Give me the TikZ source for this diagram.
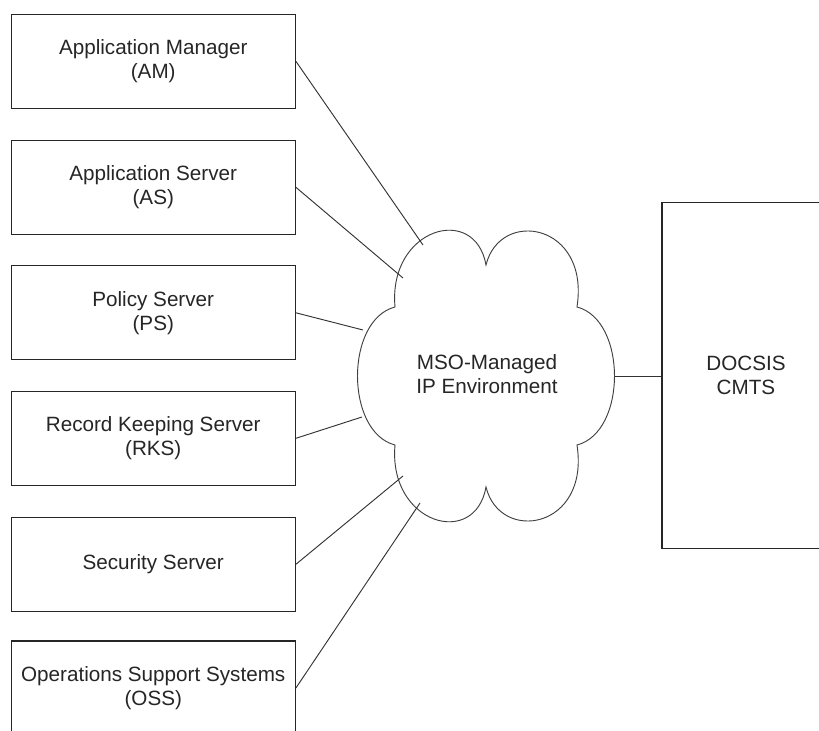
\documentclass[tikz,border=0pt]{standalone}
\usepackage{fontspec}
\setmainfont{Liberation Sans}
\begin{document}
\begin{tikzpicture}[x=0.75pt,y=-0.75pt,
  every node/.style={text=black!85},
  box/.style={draw=black!85,line width=1pt,rectangle,minimum width=213pt,minimum height=70.5pt,align=center,inner sep=0pt,font=\fontsize{15.5}{18}\selectfont},
  link/.style={draw=black!80,line width=0.7pt},
  cloudline/.style={draw=black!75,line width=0.7pt}]
\useasboundingbox (0,0) rectangle (819,731);
\clip (0,0) rectangle (819,731);
\fill[white] (0,0) rectangle (819,731);
% left boxes
\node[box] (am)  at (153.25,61.3)  {Application Manager\\(AM)};
\node[box] (as)  at (153.25,187.3) {Application Server\\(AS)};
\node[box] (ps)  at (153.25,312.8) {Policy Server\\(PS)};
\node[box] (rks) at (153.25,438.3) {Record Keeping Server\\(RKS)};
\node[box] (sec) at (153.25,564.3) {Security Server};
\node[box] (oss) at (153.25,688)   {Operations Support Systems\\(OSS)};
% CMTS
\node[box,minimum width=126pt,minimum height=259.5pt] (cmts) at (746,375.3) {DOCSIS\\CMTS};
% cloud outline
\draw[cloudline] (395,307)
  .. controls (388,228) and (475,203) .. (486,265)
  .. controls (500,208) and (590,223) .. (577,307)
  .. controls (627,320) and (627,432) .. (577,445)
  .. controls (590,529) and (500,544) .. (486,487)
  .. controls (475,549) and (388,524) .. (395,445)
  .. controls (345,432) and (345,320) .. (395,307) -- cycle;
\node[align=center,font=\fontsize{15.5}{18}\selectfont] (cloud) at (487,374) {MSO-Managed\\IP Environment};
% attach points on the cloud
\coordinate (c1) at (423,245);
\coordinate (c2) at (403,278);
\coordinate (c3) at (363,330);
\coordinate (c4) at (362,417);
\coordinate (c5) at (403,476);
\coordinate (c6) at (420,503);
\coordinate (c7) at (615,376);
\draw[link] (am.east)  -- (c1);
\draw[link] (as.east)  -- (c2);
\draw[link] (ps.east)  -- (c3);
\draw[link] (rks.east) -- (c4);
\draw[link] (sec.east) -- (c5);
\draw[link] (oss.east) -- (c6);
\draw[link] (c7) -- (cmts.west |- c7);
\end{tikzpicture}
\end{document}
